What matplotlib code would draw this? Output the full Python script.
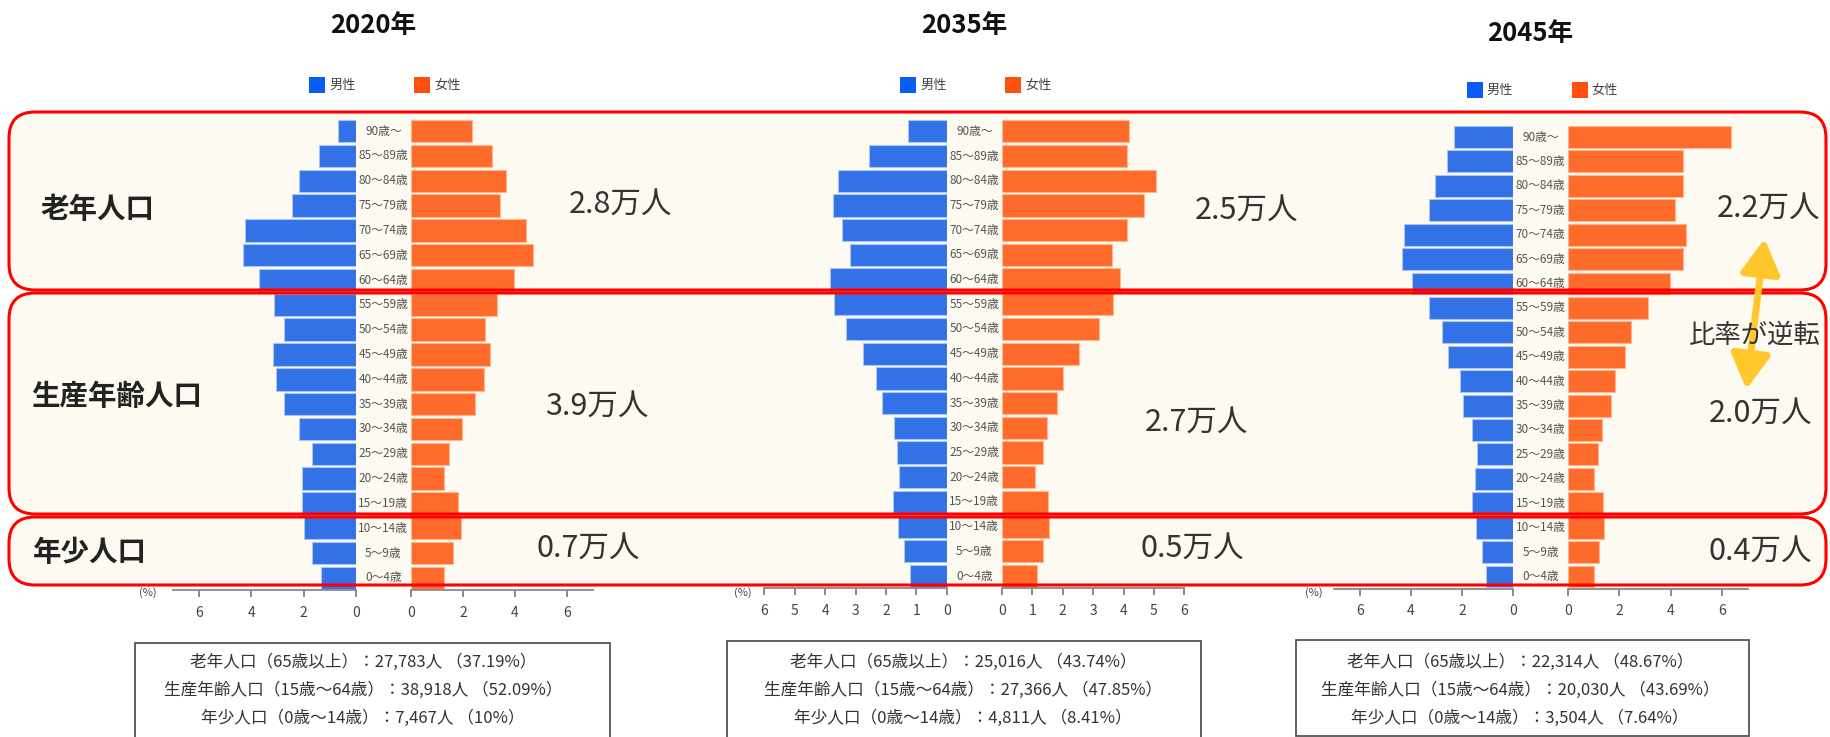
import matplotlib
matplotlib.use("Agg")
import matplotlib.pyplot as plt
from matplotlib.patches import FancyBboxPatch, Rectangle, FancyArrowPatch
from matplotlib.transforms import blended_transform_factory

plt.rcParams['font.family'] = ['Noto Sans CJK JP', 'DejaVu Sans']

W, H = 1830, 737

ages = ['90歳～', '85～89歳', '80～84歳', '75～79歳', '70～74歳', '65～69歳', '60～64歳',
        '55～59歳', '50～54歳', '45～49歳', '40～44歳', '35～39歳', '30～34歳', '25～29歳',
        '20～24歳', '15～19歳', '10～14歳', '5～9歳', '0～4歳']

years = ['2020年', '2035年', '2045年']

male_2020 = [0.69, 1.39, 2.19, 2.44, 4.23, 4.31, 3.72, 3.14, 2.76, 3.18, 3.05, 2.76, 2.16, 1.68, 2.04, 2.06, 1.97, 1.68, 1.34]
female_2020 = [2.36, 3.12, 3.67, 3.41, 4.43, 4.69, 3.95, 3.31, 2.84, 3.05, 2.80, 2.45, 1.98, 1.47, 1.28, 1.79, 1.94, 1.60, 1.28]
male_2035 = [1.26, 2.55, 3.57, 3.73, 3.43, 3.18, 3.84, 3.70, 3.32, 2.76, 2.33, 2.12, 1.73, 1.62, 1.57, 1.78, 1.61, 1.39, 1.21]
female_2035 = [4.18, 4.10, 5.07, 4.67, 4.10, 3.63, 3.90, 3.64, 3.20, 2.54, 2.00, 1.81, 1.49, 1.34, 1.09, 1.52, 1.54, 1.34, 1.16]
male_2045 = [2.32, 2.60, 3.06, 3.29, 4.26, 4.34, 3.97, 3.28, 2.77, 2.54, 2.08, 1.98, 1.63, 1.43, 1.50, 1.63, 1.47, 1.24, 1.08]
female_2045 = [6.33, 4.48, 4.48, 4.16, 4.61, 4.46, 3.99, 3.13, 2.45, 2.23, 1.83, 1.68, 1.32, 1.19, 1.03, 1.38, 1.39, 1.20, 1.03]

males = [male_2020, male_2035, male_2045]
females = [female_2020, female_2035, female_2045]

group_labels = ['老年人口', '生産年齢人口', '年少人口']
totals_2020 = ['2.8万人', '3.9万人', '0.7万人']
totals_2035 = ['2.5万人', '2.7万人', '0.5万人']
totals_2045 = ['2.2万人', '2.0万人', '0.4万人']

summary_2020 = ['老年人口（65歳以上）：27,783人 （37.19%）',
                '生産年齢人口（15歳～64歳）：38,918人 （52.09%）',
                '年少人口（0歳～14歳）：7,467人 （10%）']
summary_2035 = ['老年人口（65歳以上）：25,016人 （43.74%）',
                '生産年齢人口（15歳～64歳）：27,366人 （47.85%）',
                '年少人口（0歳～14歳）：4,811人 （8.41%）']
summary_2045 = ['老年人口（65歳以上）：22,314人 （48.67%）',
                '生産年齢人口（15歳～64歳）：20,030人 （43.69%）',
                '年少人口（0歳～14歳）：3,504人 （7.64%）']

# layout in pixels
panels = [
    dict(lx=173, l0=355.7, r0=411, rx=593, top=118.6, bot=590.4, xmax=7, step=2,
         title_y=25, leg_y=85, pct_x=148,
         totals=totals_2020, tot_pos=[(620, 204), (597, 406), (588, 548)],
         summary=summary_2020, box=(135, 643, 610, 745), sum_x=363),
    dict(lx=764.3, l0=946.7, r0=1002, rx=1184.3, top=119, bot=588.4, xmax=6, step=1,
         title_y=25, leg_y=85, pct_x=743,
         totals=totals_2035, tot_pos=[(1246, 210), (1196, 422), (1192, 548)],
         summary=summary_2035, box=(727, 641, 1201, 745), sum_x=963),
    dict(lx=1334.1, l0=1513.3, r0=1567.7, rx=1748, top=124.8, bot=588.7, xmax=7, step=2,
         title_y=33, leg_y=90, pct_x=1314,
         totals=totals_2045, tot_pos=[(1768, 208), (1760, 413), (1760, 551)],
         summary=summary_2045, box=(1296, 640, 1749, 736), sum_x=1520),
]

group_boxes = [(9, 112, 1826, 290), (9, 293, 1826, 514), (9, 517, 1826, 585)]
group_label_pos = [(97, 210), (117, 397), (90, 553)]

male_color = '#3371E6'
female_color = '#FF6B2A'
cream = '#FDFAF1'

fig = plt.figure(figsize=(W / 100, H / 100), dpi=100)
fig.patch.set_facecolor('white')

bg = fig.add_axes([0, 0, 1, 1], zorder=0)
bg.set_xlim(0, W)
bg.set_ylim(H, 0)
bg.axis('off')

top = fig.add_axes([0, 0, 1, 1], zorder=10)
top.set_xlim(0, W)
top.set_ylim(H, 0)
top.axis('off')
top.patch.set_alpha(0)

for (x0, y0, x1, y1) in group_boxes:
    bg.add_patch(FancyBboxPatch((x0, y0), x1 - x0, y1 - y0,
                                boxstyle="round,pad=0,rounding_size=26",
                                facecolor=cream, edgecolor='none'))
    top.add_patch(FancyBboxPatch((x0, y0), x1 - x0, y1 - y0,
                                 boxstyle="round,pad=0,rounding_size=26",
                                 facecolor='none', edgecolor='#FF0000', linewidth=2.2))

for lab, (x, y) in zip(group_labels, group_label_pos):
    top.text(x, y, lab, fontsize=20.5, fontweight='bold', color='#222222',
             ha='center', va='center')


def px_axes(x0, x1, y0, y1, z):
    return fig.add_axes([x0 / W, 1 - y1 / H, (x1 - x0) / W, (y1 - y0) / H], zorder=z)


pos = list(range(len(ages)))

for i, p in enumerate(panels):
    axL = px_axes(p['lx'], p['l0'], p['top'], p['bot'], 5)
    axR = px_axes(p['r0'], p['rx'], p['top'], p['bot'], 5)
    axL.barh(pos, males[i], height=0.9, color=male_color, edgecolor='#A9C5F5', linewidth=0.8)
    axR.barh(pos, females[i], height=0.9, color=female_color, edgecolor='#FFB58F', linewidth=0.8)
    ticks = list(range(0, p['xmax'], p['step'])) if p['step'] == 2 else list(range(0, p['xmax'] + 1))
    for ax in (axL, axR):
        ax.set_ylim(len(ages) - 0.5, -0.5)
        ax.set_xlim(0, p['xmax'])
        ax.patch.set_alpha(0)
        for s in ('top', 'left', 'right'):
            ax.spines[s].set_visible(False)
        ax.spines['bottom'].set_color('#888888')
        ax.spines['bottom'].set_linewidth(1.3)
        ax.set_yticks([])
        ax.set_xticks(ticks)
        ax.tick_params(axis='x', direction='out', length=5, width=1.2, color='#777777',
                       labelsize=10, labelcolor='#444444', pad=6)
    axL.invert_xaxis()

    center = (p['l0'] + p['r0']) / 2
    trans = blended_transform_factory(fig.transFigure, axR.transData)
    for k, a in enumerate(ages):
        axR.text(center / W, k, a, transform=trans, fontsize=8.5, color='#555555',
                 ha='center', va='center', clip_on=False)

    top.text(center - 10, p['title_y'], years[i], fontsize=18.5, fontweight='bold',
             color='#111111', ha='center', va='center')

    lx, ly = center - 74, p['leg_y']
    top.add_patch(Rectangle((lx, ly - 8), 16, 16, facecolor='#0A5CF5', edgecolor='none'))
    top.text(lx + 20, ly, '男性', fontsize=9.5, color='#444444', va='center')
    top.add_patch(Rectangle((lx + 105, ly - 8), 16, 16, facecolor='#FF5010', edgecolor='none'))
    top.text(lx + 125, ly, '女性', fontsize=9.5, color='#444444', va='center')

    top.text(p['pct_x'], 593, '(%)', fontsize=8, color='#444444', ha='center', va='center')

    for t, (x, y) in zip(p['totals'], p['tot_pos']):
        top.text(x, y, t, fontsize=22, color='#333333', ha='center', va='center')

    bx0, by0, bx1, by1 = p['box']
    top.add_patch(Rectangle((bx0, by0), bx1 - bx0, by1 - by0, facecolor='white',
                            edgecolor='#555555', linewidth=1.3))
    for j, line in enumerate(p['summary']):
        top.text(p['sum_x'], 662 + j * 28, line, fontsize=12, color='#333333',
                 ha='center', va='center')

top.text(1755, 335, '比率が逆転', fontsize=19, color='#333333', ha='center', va='center')
top.add_patch(FancyArrowPatch((1765, 236), (1746, 392), arrowstyle='<|-|>,head_length=0.7,head_width=0.4',
                              mutation_scale=30, color='#FFC72C', linewidth=5))

fig.savefig('out.png', dpi=100)
